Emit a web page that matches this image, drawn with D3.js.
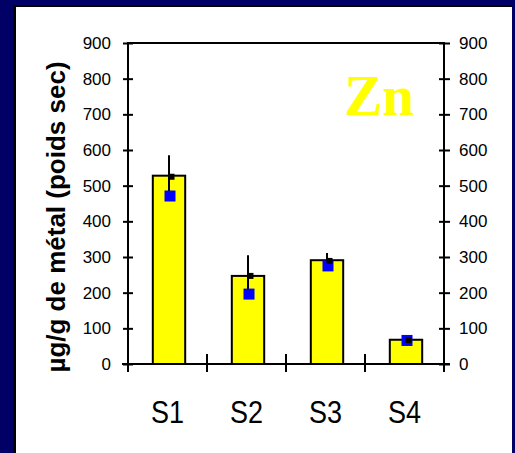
<!DOCTYPE html>
<html><head><meta charset="utf-8">
<script src="https://cdn.jsdelivr.net/npm/d3@7"></script>
<style>html,body{margin:0;padding:0;background:#000066;overflow:hidden}</style>
</head><body>
<script>
const categories = ["S1","S2","S3","S4"];
const barValues = [528, 247, 291, 68];
const meanValues = [525, 247, 289, 67];
const errValues = [60, 58, 22, 3];
const blueValues = [471, 196, 275, 66];
const yTicks = [0,100,200,300,400,500,600,700,800,900];

const W = 515, H = 453;
const svg = d3.select("body").append("svg").attr("width", W).attr("height", H);
svg.append("rect").attr("width", W).attr("height", H).attr("fill", "#000066");
svg.append("rect").attr("x", 13).attr("y", 5).attr("width", 499).attr("height", H).attr("fill", "#000");
svg.append("rect").attr("x", 16).attr("y", 7).attr("width", 496).attr("height", H).attr("fill", "#fff");

const L = 128, R = 444, T = 43, B = 364;
const x = d3.scaleBand().domain(categories).range([L, R]).paddingInner(0).paddingOuter(0);
const y = d3.scaleLinear().domain([0, 900]).range([B, T]);
const bw = x.bandwidth() * 0.41;

const g = svg.append("g");
g.selectAll("rect.bar").data(categories).enter().append("rect")
  .attr("x", d => x(d) + x.bandwidth()/2 + 1.5 - bw/2)
  .attr("y", (d,i) => y(barValues[i]))
  .attr("width", bw)
  .attr("height", (d,i) => B - y(barValues[i]))
  .attr("fill", "#ffff00").attr("stroke", "#000").attr("stroke-width", 2);

g.selectAll("line.err").data(categories).enter().append("line")
  .attr("x1", d => x(d) + x.bandwidth()/2 + 1.5).attr("x2", d => x(d) + x.bandwidth()/2 + 1.5)
  .attr("y1", (d,i) => y(meanValues[i] + errValues[i]))
  .attr("y2", (d,i) => y(meanValues[i] - errValues[i]))
  .attr("stroke", "#000").attr("stroke-width", 2);

const bs = 11;
g.selectAll("rect.blue").data(categories).enter().append("rect")
  .attr("x", d => x(d) + x.bandwidth()/2 + 2.5 - bs/2)
  .attr("y", (d,i) => y(blueValues[i]) - bs/2)
  .attr("width", bs).attr("height", bs).attr("fill", "#0000ff");

const ms = 6;
g.selectAll("rect.mean").data(categories).enter().append("rect")
  .attr("x", d => x(d) + x.bandwidth()/2 + 4 - ms/2)
  .attr("y", (d,i) => y(meanValues[i]) - ms/2)
  .attr("width", ms).attr("height", ms).attr("fill", "#000");

const yl = d3.axisLeft(y).tickValues(yTicks).tickSize(5).tickPadding(12);
const gl = svg.append("g").attr("transform", `translate(${L},0)`).call(yl);
gl.select(".domain").remove();
gl.selectAll(".tick line").attr("x2", -5).attr("x1", 5).attr("stroke-width", 2);
gl.selectAll(".tick text").attr("font-family", "Liberation Sans, Arial, sans-serif").attr("font-size", 17).attr("fill", "#000");

const yr = d3.axisRight(y).tickValues(yTicks).tickSize(5).tickPadding(10);
const gr = svg.append("g").attr("transform", `translate(${R},0)`).call(yr);
gr.select(".domain").remove();
gr.selectAll(".tick line").attr("x1", -5).attr("x2", 6).attr("stroke-width", 2);
gr.selectAll(".tick text").attr("font-family", "Liberation Sans, Arial, sans-serif").attr("font-size", 17).attr("fill", "#000");

svg.append("line").attr("x1", L).attr("x2", L).attr("y1", T-1).attr("y2", B+1).attr("stroke", "#000").attr("stroke-width", 2);
svg.append("line").attr("x1", R).attr("x2", R).attr("y1", T-1).attr("y2", B+1).attr("stroke", "#000").attr("stroke-width", 2);
svg.append("line").attr("x1", L).attr("x2", R).attr("y1", T).attr("y2", T).attr("stroke", "#000").attr("stroke-width", 2);

const boundaries = [L].concat(categories.map(c => x(c) + x.bandwidth()));
svg.append("line").attr("x1", L - 6).attr("x2", R + 6).attr("y1", B).attr("y2", B).attr("stroke", "#000").attr("stroke-width", 2);
svg.selectAll("line.ct").data(boundaries).enter().append("line")
  .attr("x1", d => d).attr("x2", d => d).attr("y1", B - 10).attr("y2", B + 8)
  .attr("stroke", "#000").attr("stroke-width", 2);
svg.selectAll("text.cat").data(categories).enter().append("text")
  .attr("transform", d => `translate(${x(d) + x.bandwidth()/2},423) scale(1,1.15)`)
  .attr("text-anchor", "middle").attr("font-family", "Liberation Sans, Arial, sans-serif")
  .attr("font-size", 27).attr("fill", "#000").text(d => d);

svg.append("text").attr("transform", "translate(65,217) rotate(-90)")
  .attr("text-anchor", "middle").attr("font-family", "Liberation Sans, Arial, sans-serif")
  .attr("font-weight", "bold").attr("font-size", 26).attr("fill", "#000")
  .text("µg/g de métal (poids sec)");

svg.append("text").attr("x", 344).attr("y", 115)
  .attr("font-family", "Liberation Serif, Times New Roman, serif").attr("font-weight", "bold")
  .attr("font-size", 57).attr("fill", "#ffff00").text("Zn");
</script>
</body></html>
